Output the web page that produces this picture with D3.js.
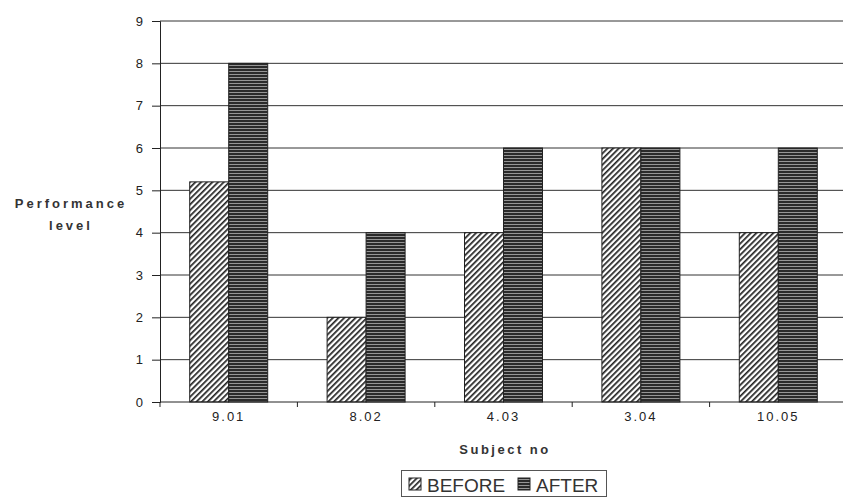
<!DOCTYPE html>
<html>
<head>
<meta charset="utf-8">
<script src="https://cdn.jsdelivr.net/npm/d3@7"></script>
<style>
  html, body { margin: 0; padding: 0; background: #fff; }
  svg { display: block; }
</style>
</head>
<body>
<svg id="chart" width="843" height="497"></svg>
<script>
const categories = ["9.01", "8.02", "4.03", "3.04", "10.05"];
const seriesNames = ["BEFORE", "AFTER"];
const beforeValues = [5.2, 2, 4, 6, 4];
const afterValues = [8, 4, 6, 6, 6];
const yTicks = [0, 1, 2, 3, 4, 5, 6, 7, 8, 9];

(function () {
const svg = d3.select("#chart");
const W = 843, H = 497;
const plotLeft = 160, bandEnd = 847, plotTop = 21, plotBottom = 402;

const defs = svg.append("defs");
const hatch = defs.append("pattern").attr("id", "hatch")
  .attr("patternUnits", "userSpaceOnUse").attr("width", 4).attr("height", 4)
  .attr("patternTransform", "rotate(45)");
hatch.append("rect").attr("width", 4).attr("height", 4).attr("fill", "#fff");
hatch.append("rect").attr("x", 0).attr("width", 1.7).attr("height", 4).attr("fill", "#222");

const horiz = defs.append("pattern").attr("id", "horiz")
  .attr("patternUnits", "userSpaceOnUse").attr("width", 6).attr("height", 3);
horiz.append("rect").attr("width", 6).attr("height", 3).attr("fill", "#2a2a2a");
horiz.append("rect").attr("y", 2).attr("width", 6).attr("height", 0.8).attr("fill", "#b0b0b0");

const fills = { BEFORE: "url(#hatch)", AFTER: "url(#horiz)" };

const x0 = d3.scaleBand().domain(categories).range([plotLeft, bandEnd]).paddingInner(0).paddingOuter(0);
const groupW = 78;
const x1 = d3.scaleBand().domain(seriesNames).range([0, groupW]).padding(0);
const y = d3.scaleLinear().domain([0, 9]).range([plotBottom, plotTop]);

// gridlines
svg.append("g").selectAll("line").data(yTicks.filter(d => d > 0)).join("line")
  .attr("x1", plotLeft).attr("x2", W)
  .attr("y1", d => y(d)).attr("y2", d => y(d))
  .attr("stroke", "#333").attr("stroke-width", 1);

// bars
const data = categories.map((c, i) => ({ c, vals: [
  { s: "BEFORE", v: beforeValues[i] }, { s: "AFTER", v: afterValues[i] }] }));
const groups = svg.append("g").selectAll("g").data(data).join("g")
  .attr("transform", d => `translate(${x0(d.c) + (x0.bandwidth() - groupW) / 2},0)`);
groups.selectAll("rect").data(d => d.vals).join("rect")
  .attr("x", d => x1(d.s)).attr("width", x1.bandwidth())
  .attr("y", d => y(d.v)).attr("height", d => y(0) - y(d.v))
  .attr("fill", d => fills[d.s]).attr("stroke", "#222").attr("stroke-width", 1);

// y axis
const yAxis = d3.axisLeft(y).tickValues(yTicks).tickSize(8).tickPadding(9).tickFormat(d3.format("d"));
const yg = svg.append("g").attr("transform", `translate(${plotLeft},0)`).call(yAxis);
yg.select(".domain").attr("stroke", "#222");
yg.selectAll(".tick line").attr("stroke", "#222");
yg.selectAll("text").attr("font-family", "Liberation Sans, Arial, sans-serif")
  .attr("font-size", 13).attr("fill", "#222");

// x axis
const xAxis = d3.axisBottom(x0).tickSize(0).tickPadding(10);
const xg = svg.append("g").attr("transform", `translate(0,${plotBottom})`).call(xAxis);
xg.select(".domain").remove();
xg.append("line").attr("x1", plotLeft).attr("x2", W).attr("y1", 0).attr("y2", 0).attr("stroke", "#222");
xg.selectAll(".tick text").attr("font-family", "Liberation Sans, Arial, sans-serif")
  .attr("font-size", 13).attr("letter-spacing", 2).attr("fill", "#222");
const bounds = categories.map(c => x0(c));
xg.append("g").selectAll("line").data(bounds).join("line")
  .attr("x1", d => d).attr("x2", d => d).attr("y1", 0).attr("y2", 5)
  .attr("stroke", "#222");

// axis titles
const titleFont = "Liberation Sans, Arial, sans-serif";
svg.append("text").attr("x", 71).attr("y", 208).attr("text-anchor", "middle")
  .attr("font-family", titleFont).attr("font-weight", "bold").attr("font-size", 13)
  .attr("letter-spacing", 3).attr("fill", "#333").text("Performance");
svg.append("text").attr("x", 71).attr("y", 230).attr("text-anchor", "middle")
  .attr("font-family", titleFont).attr("font-weight", "bold").attr("font-size", 13)
  .attr("letter-spacing", 3).attr("fill", "#333").text("level");
svg.append("text").attr("x", 505).attr("y", 454).attr("text-anchor", "middle")
  .attr("font-family", titleFont).attr("font-weight", "bold").attr("font-size", 13)
  .attr("letter-spacing", 2.5).attr("fill", "#333").text("Subject no");

// legend
const lg = svg.append("g");
lg.append("rect").attr("x", 401.5).attr("y", 470.5).attr("width", 205).attr("height", 26)
  .attr("fill", "#fff").attr("stroke", "#555");
const legendItems = [
  { s: "BEFORE", sx: 409, tx: 427 },
  { s: "AFTER", sx: 518, tx: 536 }
];
lg.selectAll("rect.sw").data(legendItems).join("rect").attr("class", "sw")
  .attr("x", d => d.sx).attr("y", 478).attr("width", 12).attr("height", 12)
  .attr("fill", d => fills[d.s]).attr("stroke", "#222");
lg.selectAll("text").data(legendItems).join("text")
  .attr("x", d => d.tx).attr("y", 492)
  .attr("font-family", titleFont).attr("font-size", 19).attr("fill", "#333")
  .text(d => d.s);
})();
</script>
</body>
</html>
